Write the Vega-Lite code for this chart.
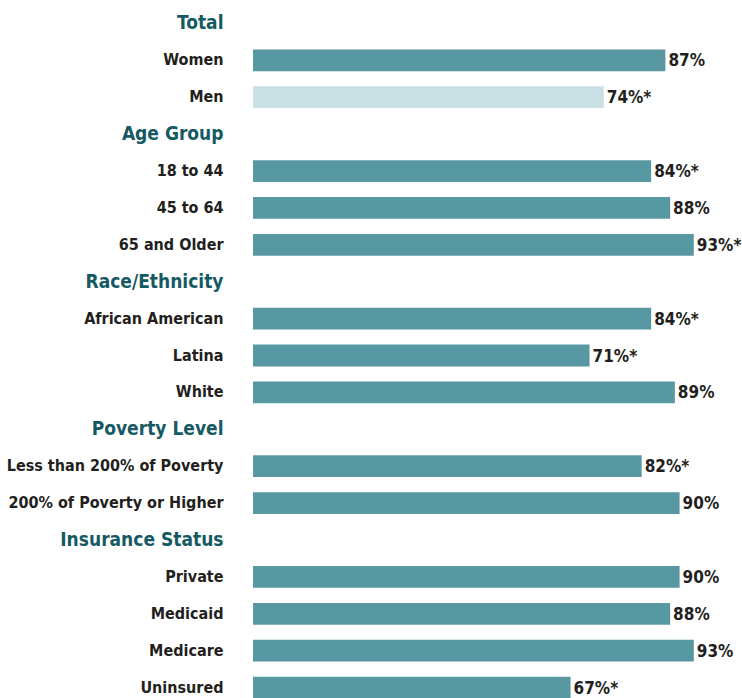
{
  "$schema": "https://vega.github.io/schema/vega-lite/v6.json",
  "autosize": "none",
  "width": 474,
  "height": 701,
  "padding": {"left": 253, "top": 5, "right": 15, "bottom": 0},
  "background": "white",
  "config": {"view": {"stroke": null}},
  "data": {
    "values": [
      {"category": "Women", "value": 87, "label": "87%"},
      {"category": "Men", "value": 74, "label": "74%*"},
      {"category": "18 to 44", "value": 84, "label": "84%*"},
      {"category": "45 to 64", "value": 88, "label": "88%"},
      {"category": "65 and Older", "value": 93, "label": "93%*"},
      {"category": "African American", "value": 84, "label": "84%*"},
      {"category": "Latina", "value": 71, "label": "71%*"},
      {"category": "White", "value": 89, "label": "89%"},
      {"category": "Less than 200% of Poverty", "value": 82, "label": "82%*"},
      {"category": "200% of Poverty or Higher", "value": 90, "label": "90%"},
      {"category": "Private", "value": 90, "label": "90%"},
      {"category": "Medicaid", "value": 88, "label": "88%"},
      {"category": "Medicare", "value": 93, "label": "93%"},
      {"category": "Uninsured", "value": 67, "label": "67%*"}
    ]
  },
  "encoding": {
    "y": {
      "field": "category",
      "type": "nominal",
      "sort": null,
      "scale": {
        "domain": ["Total", "Women", "Men", "Age Group", "18 to 44", "45 to 64", "65 and Older", "Race/Ethnicity", "African American", "Latina", "White", "Poverty Level", "Less than 200% of Poverty", "200% of Poverty or Higher", "Insurance Status", "Private", "Medicaid", "Medicare", "Uninsured"],
        "paddingInner": 0.41,
        "paddingOuter": 0.205
      },
      "axis": {
        "title": null,
        "domain": false,
        "ticks": false,
        "labelPadding": 30,
        "labelFont": "DejaVu Sans Condensed, Roboto, sans-serif",
        "labelFontWeight": "bold",
        "labelFontSize": {"expr": "indexof(['Total','Age Group','Race/Ethnicity','Poverty Level','Insurance Status'], datum.value) >= 0 ? 19 : 16"},
        "labelColor": {"expr": "indexof(['Total','Age Group','Race/Ethnicity','Poverty Level','Insurance Status'], datum.value) >= 0 ? '#155a63' : '#231f20'"},
        "labelLimit": 300
      }
    },
    "x": {
      "field": "value",
      "type": "quantitative",
      "scale": {"domain": [0, 100]},
      "axis": null
    }
  },
  "layer": [
    {
      "mark": {"type": "bar"},
      "encoding": {
        "color": {
          "condition": {"test": "datum.category === 'Men'", "value": "#c9e0e4"},
          "value": "#5798a3"
        }
      }
    },
    {
      "mark": {
        "type": "text",
        "align": "left",
        "baseline": "middle",
        "dx": 3,
        "dy": 1,
        "font": "DejaVu Sans Condensed, Roboto, sans-serif",
        "fontWeight": "bold",
        "fontSize": 17,
        "color": "#231f20"
      },
      "encoding": {
        "text": {"field": "label"}
      }
    }
  ]
}
